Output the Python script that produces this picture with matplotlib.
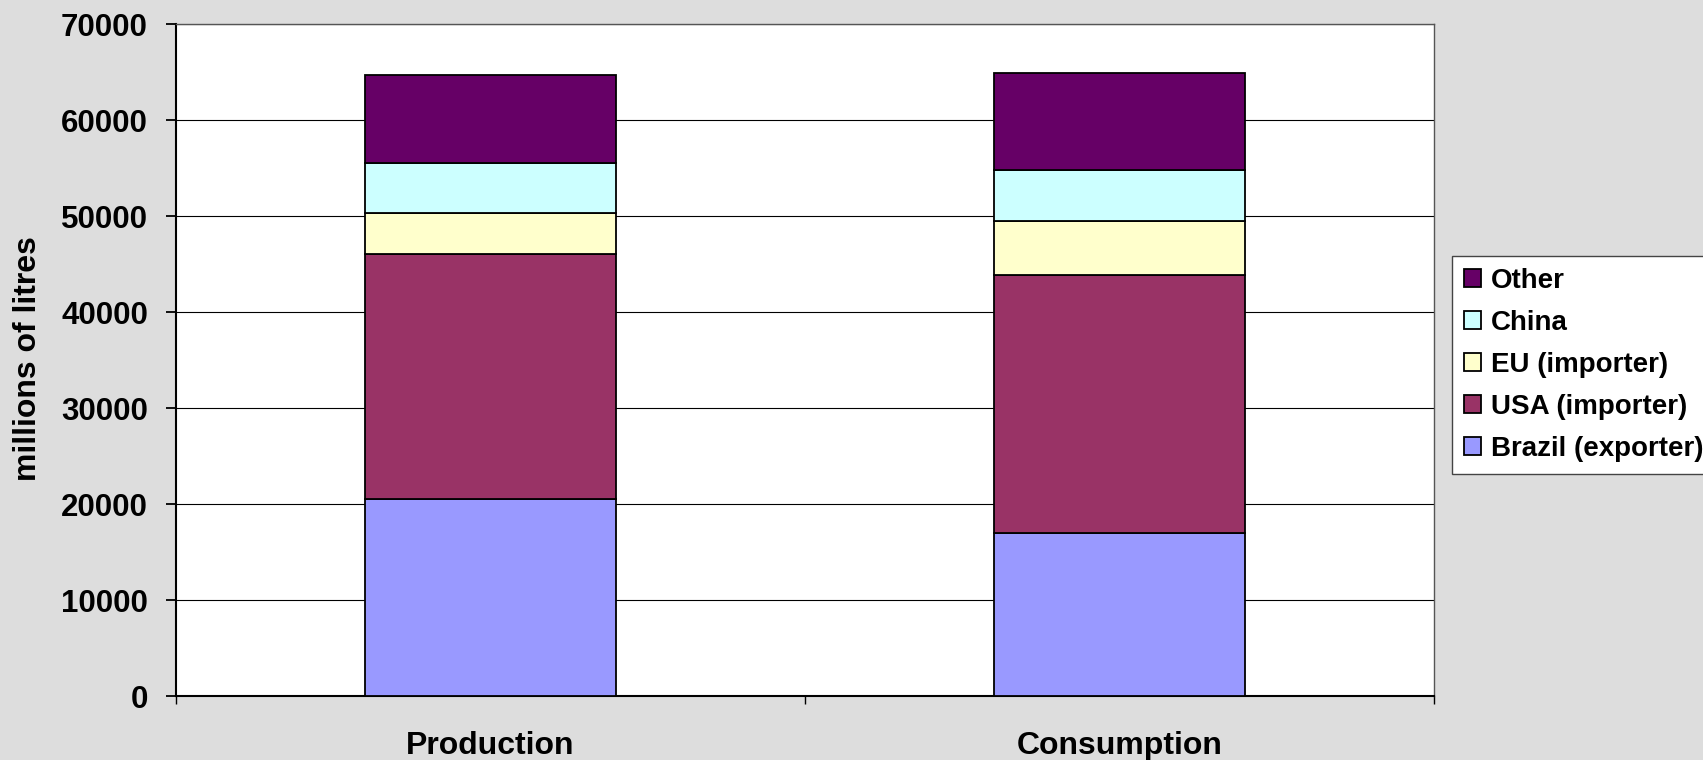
import matplotlib
matplotlib.use("Agg")
import matplotlib.pyplot as plt
import numpy as np

# data (millions of litres)
categories = ["Production", "Consumption"]
series = ["Brazil (exporter)", "USA (importer)", "EU (importer)", "China", "Other"]
brazil = [20550, 16930]
usa = [25460, 26950]
eu = [4300, 5580]
china = [5240, 5380]
other = [9140, 10060]
values = [brazil, usa, eu, china, other]
colors = ["#9999FF", "#993366", "#FFFFCC", "#CCFFFF", "#660066"]
yticks = [0, 10000, 20000, 30000, 40000, 50000, 60000, 70000]

bg = "#DDDDDD"
fig = plt.figure(figsize=(17.03, 7.6), dpi=100, facecolor=bg)
ax = fig.add_axes([176 / 1703, 64 / 760, 1258 / 1703, 672 / 760])
ax.set_facecolor("white")

x = np.arange(len(categories))
bottom = np.zeros(len(categories))
handles = []
for name, vals, col in zip(series, values, colors):
    b = ax.bar(x, vals, 0.4, bottom=bottom, color=col, edgecolor="black",
               linewidth=1.3, label=name, zorder=3)
    handles.append(b)
    bottom += np.array(vals)

ax.set_xlim(-0.5, 1.5)
ax.set_ylim(0, 70000)
ax.set_yticks(yticks)
ax.set_yticklabels([str(t) for t in yticks], fontfamily="Liberation Sans",
                   fontweight="bold", fontsize=22.5)
ax.grid(axis="y", color="black", linewidth=0.8, zorder=0)
ax.tick_params(axis="y", direction="out", length=7.2, width=1.3, pad=13)

ax.set_xticks(x)
ax.set_xticklabels(categories, fontfamily="Liberation Sans", fontweight="bold",
                   fontsize=23)
ax.tick_params(axis="x", which="major", length=0, pad=25.5)
ax.set_xticks([-0.5, 0.5, 1.5], minor=True)
ax.tick_params(axis="x", which="minor", direction="out", length=6, width=1)

for s in ["left", "bottom"]:
    ax.spines[s].set_linewidth(1.5)
    ax.spines[s].set_color("black")
for s in ["top", "right"]:
    ax.spines[s].set_linewidth(1)
    ax.spines[s].set_color("#555555")

fig.text(28 / 1703, 1 - 359 / 760, "millions of litres", rotation=90, ha="center",
         va="center", fontfamily="Liberation Sans", fontweight="bold",
         fontsize=23)

leg = fig.legend(handles[::-1], series[::-1], loc="upper left",
                 bbox_to_anchor=(1452 / 1703, 1 - 256 / 760),
                 prop={"family": "Liberation Sans", "weight": "bold", "size": 20},
                 frameon=True, fancybox=False, edgecolor="#444444",
                 facecolor="white", framealpha=1, handlelength=0.62,
                 handleheight=0.62, handletextpad=0.35, labelspacing=0.58,
                 borderpad=0.42, borderaxespad=0)
leg.get_frame().set_linewidth(1)

fig.savefig("out.png", dpi=100, facecolor=bg)
